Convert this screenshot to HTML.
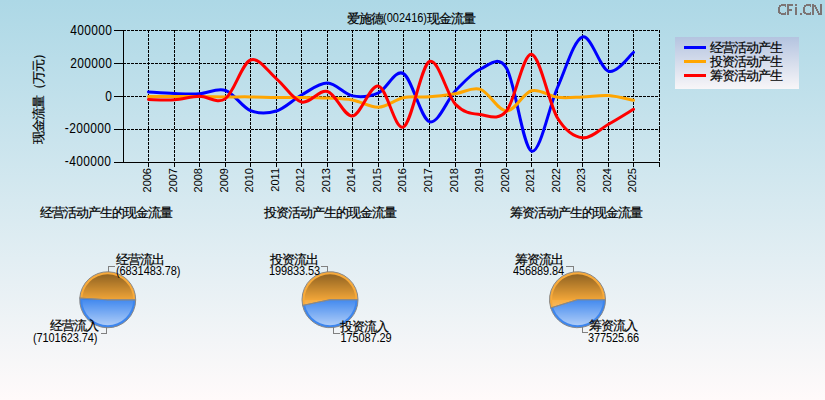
<!DOCTYPE html>
<html><head><meta charset="utf-8"><style>
html,body{margin:0;padding:0}
body{width:825px;height:400px;overflow:hidden;position:relative;background:linear-gradient(#add8e6,#fffafa);font-family:"Liberation Sans",sans-serif}
svg{position:absolute;left:0;top:0}
.g{stroke:#000;stroke-width:1;stroke-dasharray:3 1;shape-rendering:crispEdges}
.ax{stroke:#000;stroke-width:1;fill:none;shape-rendering:crispEdges}
.ld{stroke:#808080;stroke-width:1;fill:none;shape-rendering:crispEdges}
.cv{fill:none;stroke-width:3;stroke-linecap:round;stroke-linejoin:round}
.yl{font-size:12px;letter-spacing:.35px;text-anchor:end;fill:#000}
.xl{font-size:11px;text-anchor:end;fill:#000}
.t{position:absolute;white-space:nowrap;line-height:14px;color:#000}
.c{font-size:13px;letter-spacing:-1px;-webkit-text-stroke:.2px #000}
.n{font-size:11px;letter-spacing:0;-webkit-text-stroke:0}
.n2{display:inline-block;transform:translateY(-1px) scaleY(1.12);transform-origin:0 100%}
.nn{font-size:11px;letter-spacing:-.1px;transform:scaleY(1.12);transform-origin:0 0}
</style></head><body>
<svg width="825" height="400" viewBox="0 0 825 400"><defs>
<linearGradient id="ov" x1="0" y1="0" x2="0" y2="1"><stop offset="0" stop-color="#000" stop-opacity=".42"/><stop offset="0.5" stop-color="#000" stop-opacity=".03"/><stop offset="0.5" stop-color="#fff" stop-opacity=".03"/><stop offset="1" stop-color="#fff" stop-opacity=".58"/></linearGradient>
<linearGradient id="lg" x1="0" y1="0" x2="0" y2="1"><stop offset="0" stop-color="#b4c4e0"/><stop offset="1" stop-color="#f8f6f8"/></linearGradient>
</defs>
<line x1="123" y1="30.5" x2="660" y2="30.5" class="g"/>
<line x1="123" y1="63.5" x2="660" y2="63.5" class="g"/>
<line x1="123" y1="96.5" x2="660" y2="96.5" class="g"/>
<line x1="123" y1="129.5" x2="660" y2="129.5" class="g"/>
<line x1="148.5" y1="30" x2="148.5" y2="162" class="g"/>
<line x1="174.5" y1="30" x2="174.5" y2="162" class="g"/>
<line x1="199.5" y1="30" x2="199.5" y2="162" class="g"/>
<line x1="225.5" y1="30" x2="225.5" y2="162" class="g"/>
<line x1="250.5" y1="30" x2="250.5" y2="162" class="g"/>
<line x1="276.5" y1="30" x2="276.5" y2="162" class="g"/>
<line x1="301.5" y1="30" x2="301.5" y2="162" class="g"/>
<line x1="327.5" y1="30" x2="327.5" y2="162" class="g"/>
<line x1="352.5" y1="30" x2="352.5" y2="162" class="g"/>
<line x1="378.5" y1="30" x2="378.5" y2="162" class="g"/>
<line x1="403.5" y1="30" x2="403.5" y2="162" class="g"/>
<line x1="429.5" y1="30" x2="429.5" y2="162" class="g"/>
<line x1="455.5" y1="30" x2="455.5" y2="162" class="g"/>
<line x1="480.5" y1="30" x2="480.5" y2="162" class="g"/>
<line x1="506.5" y1="30" x2="506.5" y2="162" class="g"/>
<line x1="531.5" y1="30" x2="531.5" y2="162" class="g"/>
<line x1="557.5" y1="30" x2="557.5" y2="162" class="g"/>
<line x1="582.5" y1="30" x2="582.5" y2="162" class="g"/>
<line x1="608.5" y1="30" x2="608.5" y2="162" class="g"/>
<line x1="633.5" y1="30" x2="633.5" y2="162" class="g"/>
<line x1="659.5" y1="30" x2="659.5" y2="162" class="g"/>
<path d="M123.5 30 V162 M114 162.5 H660" class="ax"/>
<line x1="114" y1="30.5" x2="123" y2="30.5" class="ax"/>
<line x1="114" y1="63.5" x2="123" y2="63.5" class="ax"/>
<line x1="114" y1="96.5" x2="123" y2="96.5" class="ax"/>
<line x1="114" y1="129.5" x2="123" y2="129.5" class="ax"/>
<line x1="148.5" y1="163" x2="148.5" y2="167" class="ax"/>
<line x1="174.5" y1="163" x2="174.5" y2="167" class="ax"/>
<line x1="199.5" y1="163" x2="199.5" y2="167" class="ax"/>
<line x1="225.5" y1="163" x2="225.5" y2="167" class="ax"/>
<line x1="250.5" y1="163" x2="250.5" y2="167" class="ax"/>
<line x1="276.5" y1="163" x2="276.5" y2="167" class="ax"/>
<line x1="301.5" y1="163" x2="301.5" y2="167" class="ax"/>
<line x1="327.5" y1="163" x2="327.5" y2="167" class="ax"/>
<line x1="352.5" y1="163" x2="352.5" y2="167" class="ax"/>
<line x1="378.5" y1="163" x2="378.5" y2="167" class="ax"/>
<line x1="403.5" y1="163" x2="403.5" y2="167" class="ax"/>
<line x1="429.5" y1="163" x2="429.5" y2="167" class="ax"/>
<line x1="455.5" y1="163" x2="455.5" y2="167" class="ax"/>
<line x1="480.5" y1="163" x2="480.5" y2="167" class="ax"/>
<line x1="506.5" y1="163" x2="506.5" y2="167" class="ax"/>
<line x1="531.5" y1="163" x2="531.5" y2="167" class="ax"/>
<line x1="557.5" y1="163" x2="557.5" y2="167" class="ax"/>
<line x1="582.5" y1="163" x2="582.5" y2="167" class="ax"/>
<line x1="608.5" y1="163" x2="608.5" y2="167" class="ax"/>
<line x1="633.5" y1="163" x2="633.5" y2="167" class="ax"/>
<line x1="659.5" y1="163" x2="659.5" y2="167" class="ax"/>
<path d="M148.50 91.90 C152.83 92.17 166.00 93.19 174.50 93.50 C183.00 93.81 191.00 94.25 199.50 93.75 C208.00 93.25 217.00 87.69 225.50 90.50 C234.00 93.31 242.00 107.18 250.50 110.60 C259.00 114.02 268.00 113.60 276.50 111.00 C285.00 108.40 293.00 99.65 301.50 95.00 C310.00 90.35 319.00 82.95 327.50 83.10 C336.00 83.25 344.00 94.28 352.50 95.90 C361.00 97.52 370.00 96.52 378.50 92.80 C387.00 89.08 395.00 68.78 403.50 73.60 C412.00 78.42 420.83 118.83 429.50 121.70 C438.17 124.57 447.00 99.58 455.50 90.80 C464.00 82.02 472.00 72.78 480.50 69.00 C489.00 65.22 498.00 54.40 506.50 68.10 C515.00 81.80 523.00 147.97 531.50 151.20 C540.00 154.43 549.00 106.53 557.50 87.50 C566.00 68.47 574.00 39.72 582.50 37.00 C591.00 34.28 600.00 68.63 608.50 71.20 C617.00 73.77 629.33 55.53 633.50 52.40" stroke="#0000ff" class="cv"/>
<path d="M148.50 96.50 C152.83 96.50 166.00 96.50 174.50 96.50 C183.00 96.50 191.00 96.43 199.50 96.50 C208.00 96.57 217.00 96.83 225.50 96.90 C234.00 96.97 242.00 96.80 250.50 96.90 C259.00 97.00 268.00 97.40 276.50 97.50 C285.00 97.60 293.00 97.40 301.50 97.50 C310.00 97.60 319.00 97.68 327.50 98.10 C336.00 98.52 344.00 98.48 352.50 100.00 C361.00 101.52 370.00 107.58 378.50 107.20 C387.00 106.82 395.00 99.43 403.50 97.70 C412.00 95.97 420.83 97.46 429.50 96.80 C438.17 96.14 447.00 94.98 455.50 93.75 C464.00 92.52 472.00 86.53 480.50 89.40 C489.00 92.28 498.00 110.77 506.50 111.00 C515.00 111.23 523.00 93.08 531.50 90.80 C540.00 88.52 549.00 96.27 557.50 97.30 C566.00 98.33 574.00 97.30 582.50 97.00 C591.00 96.70 600.00 94.95 608.50 95.50 C617.00 96.05 629.33 99.50 633.50 100.30" stroke="#ffa500" class="cv"/>
<path d="M148.50 99.60 C152.83 99.62 166.00 100.31 174.50 99.75 C183.00 99.19 191.00 96.44 199.50 96.25 C208.00 96.06 217.00 104.64 225.50 98.60 C234.00 92.56 242.00 63.30 250.50 60.00 C259.00 56.70 268.00 71.80 276.50 78.80 C285.00 85.80 293.00 99.88 301.50 102.00 C310.00 104.12 319.00 89.17 327.50 91.50 C336.00 93.83 344.00 116.90 352.50 116.00 C361.00 115.10 370.00 84.27 378.50 86.10 C387.00 87.93 395.00 131.10 403.50 127.00 C412.00 122.90 420.83 65.27 429.50 61.50 C438.17 57.73 447.00 95.55 455.50 104.40 C464.00 113.25 472.00 113.50 480.50 114.60 C489.00 115.70 498.00 121.05 506.50 111.00 C515.00 100.95 523.00 53.13 531.50 54.30 C540.00 55.47 549.00 104.08 557.50 118.00 C566.00 131.92 574.00 136.75 582.50 137.80 C591.00 138.85 600.00 129.05 608.50 124.30 C617.00 119.55 629.33 111.80 633.50 109.30" stroke="#ff0000" class="cv"/>
<path d="M107.70 299.80 L135.70 299.80 A28.00 28.00 0 0 0 79.75 298.10 Z" fill="#f8aa3a"/>
<path d="M107.70 299.80 L79.75 298.10 A28.00 28.00 0 1 0 135.70 299.80 Z" fill="#3d86ee"/>
<circle cx="107.7" cy="299.8" r="25.5" fill="url(#ov)"/>
<path d="M107.70 299.80 L135.70 299.80 A28.00 28.00 0 0 0 79.75 298.10 Z" fill="none" stroke="#888" stroke-width="1"/>
<path d="M107.70 299.80 L79.75 298.10 A28.00 28.00 0 1 0 135.70 299.80 Z" fill="none" stroke="#888" stroke-width="1"/>
<path d="M330.00 299.70 L358.00 299.70 A28.00 28.00 0 1 0 302.60 305.46 Z" fill="#f8aa3a"/>
<path d="M330.00 299.70 L302.60 305.46 A28.00 28.00 0 0 0 358.00 299.70 Z" fill="#3d86ee"/>
<circle cx="330" cy="299.7" r="25.5" fill="url(#ov)"/>
<path d="M330.00 299.70 L358.00 299.70 A28.00 28.00 0 1 0 302.60 305.46 Z" fill="none" stroke="#888" stroke-width="1"/>
<path d="M330.00 299.70 L302.60 305.46 A28.00 28.00 0 0 0 358.00 299.70 Z" fill="none" stroke="#888" stroke-width="1"/>
<path d="M577.50 299.70 L605.50 299.70 A28.00 28.00 0 1 0 550.74 307.94 Z" fill="#f8aa3a"/>
<path d="M577.50 299.70 L550.74 307.94 A28.00 28.00 0 0 0 605.50 299.70 Z" fill="#3d86ee"/>
<circle cx="577.5" cy="299.7" r="25.5" fill="url(#ov)"/>
<path d="M577.50 299.70 L605.50 299.70 A28.00 28.00 0 1 0 550.74 307.94 Z" fill="none" stroke="#888" stroke-width="1"/>
<path d="M577.50 299.70 L550.74 307.94 A28.00 28.00 0 0 0 605.50 299.70 Z" fill="none" stroke="#888" stroke-width="1"/>
<rect x="675" y="37" width="124" height="52" fill="url(#lg)"/>
<g fill="#7c7474" shape-rendering="crispEdges">
<rect x="781" y="4" width="5" height="2"/><rect x="779" y="5" width="2" height="2"/><rect x="778" y="7" width="2" height="6"/><rect x="779" y="12" width="2" height="2"/><rect x="781" y="13" width="5" height="2"/><rect x="785" y="6" width="1" height="1"/><rect x="785" y="12" width="1" height="1"/>
<rect x="787" y="4" width="2" height="11"/><rect x="789" y="4" width="4" height="2"/><rect x="789" y="9" width="3" height="2"/>
<rect x="795" y="4" width="2" height="2"/><rect x="795" y="7" width="2" height="8"/>
<rect x="800" y="13" width="2" height="2"/>
<rect x="806" y="4" width="5" height="2"/><rect x="804" y="5" width="2" height="2"/><rect x="803" y="7" width="2" height="6"/><rect x="804" y="12" width="2" height="2"/><rect x="806" y="13" width="5" height="2"/><rect x="810" y="6" width="1" height="1"/><rect x="810" y="12" width="1" height="1"/>
<rect x="812" y="4" width="2" height="11"/><rect x="820" y="4" width="2" height="11"/>
<rect x="814" y="5" width="2" height="2"/><rect x="815" y="7" width="2" height="2"/><rect x="816" y="9" width="2" height="2"/><rect x="817" y="11" width="2" height="2"/><rect x="818" y="13" width="2" height="2"/>
</g>
<line x1="684" y1="47.5" x2="706" y2="47.5" stroke="#0000ff" stroke-width="3"/>
<line x1="684" y1="61.5" x2="706" y2="61.5" stroke="#ffa500" stroke-width="3"/>
<line x1="684" y1="75.5" x2="706" y2="75.5" stroke="#ff0000" stroke-width="3"/>
<path d="M108.5 272 V266.5 H115" class="ld"/>
<path d="M106.5 327 V333.5 H101" class="ld"/>
<path d="M321 266.5 H327.5 V272" class="ld"/>
<path d="M333.5 327 V333.5 H340" class="ld"/>
<path d="M566 266.5 H573 V272" class="ld"/>
<path d="M582.5 327 V332.5 H588" class="ld"/>
<text transform="translate(112.3,35) scale(1,1.16)" class="yl">400000</text>
<text transform="translate(112.3,68) scale(1,1.16)" class="yl">200000</text>
<text transform="translate(112.3,101) scale(1,1.16)" class="yl">0</text>
<text transform="translate(111.3,133) scale(1,1.16)" class="yl">-200000</text>
<text transform="translate(111.3,166) scale(1,1.16)" class="yl">-400000</text>
<text transform="translate(151,168) rotate(-90)" class="xl">2006</text>
<text transform="translate(177,168) rotate(-90)" class="xl">2007</text>
<text transform="translate(202,168) rotate(-90)" class="xl">2008</text>
<text transform="translate(228,168) rotate(-90)" class="xl">2009</text>
<text transform="translate(253,168) rotate(-90)" class="xl">2010</text>
<text transform="translate(279,168) rotate(-90)" class="xl">2011</text>
<text transform="translate(304,168) rotate(-90)" class="xl">2012</text>
<text transform="translate(330,168) rotate(-90)" class="xl">2013</text>
<text transform="translate(355,168) rotate(-90)" class="xl">2014</text>
<text transform="translate(381,168) rotate(-90)" class="xl">2015</text>
<text transform="translate(406,168) rotate(-90)" class="xl">2016</text>
<text transform="translate(432,168) rotate(-90)" class="xl">2017</text>
<text transform="translate(458,168) rotate(-90)" class="xl">2018</text>
<text transform="translate(483,168) rotate(-90)" class="xl">2019</text>
<text transform="translate(509,168) rotate(-90)" class="xl">2020</text>
<text transform="translate(534,168) rotate(-90)" class="xl">2021</text>
<text transform="translate(560,168) rotate(-90)" class="xl">2022</text>
<text transform="translate(585,168) rotate(-90)" class="xl">2023</text>
<text transform="translate(611,168) rotate(-90)" class="xl">2024</text>
<text transform="translate(636,168) rotate(-90)" class="xl">2025</text>
</svg>
<div class="t c" style="left:347px;top:12px;">爱施德<span class="n n2">(002416)</span>现金流量</div>
<div class="t c" style="left:710px;top:41px;">经营活动产生</div>
<div class="t c" style="left:710px;top:55px;">投资活动产生</div>
<div class="t c" style="left:710px;top:69px;">筹资活动产生</div>
<div class="t c" style="left:32px;top:144px;transform:rotate(-90deg);transform-origin:0 0">现金流量（万元）</div>
<div class="t c" style="left:40px;top:206px;">经营活动产生的现金流量</div>
<div class="t c" style="left:264px;top:206px;">投资活动产生的现金流量</div>
<div class="t c" style="left:510px;top:206px;">筹资活动产生的现金流量</div>
<div class="t c" style="left:116px;top:253px;">经营流出</div>
<div class="t nn" style="left:116px;top:263px;">(6831483.78)</div>
<div class="t c" style="left:50px;top:319px;">经营流入</div>
<div class="t nn" style="left:33px;top:330px;">(7101623.74)</div>
<div class="t c" style="left:270px;top:253px;">投资流出</div>
<div class="t nn" style="left:269px;top:263px;">199833.53</div>
<div class="t c" style="left:340px;top:320px;">投资流入</div>
<div class="t nn" style="left:340.5px;top:330px;">175087.29</div>
<div class="t c" style="left:515px;top:253px;">筹资流出</div>
<div class="t nn" style="left:513px;top:263px;">456889.84</div>
<div class="t c" style="left:589px;top:319px;">筹资流入</div>
<div class="t nn" style="left:588px;top:330px;">377525.66</div>
</body></html>
